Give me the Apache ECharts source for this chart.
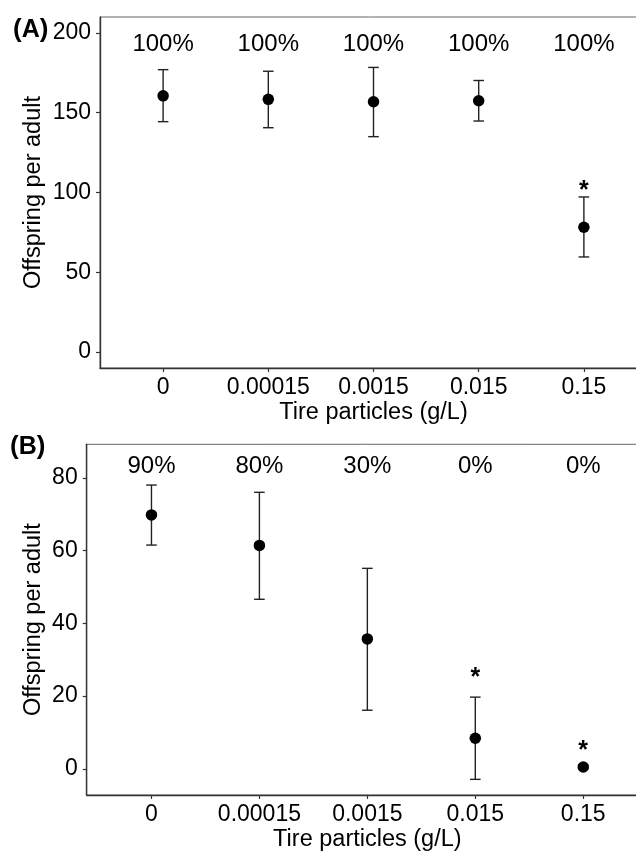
<!DOCTYPE html>
<html>
<head>
<meta charset="utf-8">
<script src="https://cdn.jsdelivr.net/npm/echarts@6/dist/echarts.min.js"></script>
<style>html,body{margin:0;padding:0;background:#fff}#c{width:636px;height:852px}</style>
</head>
<body>
<div id="c"></div>
<script>
// ---- data ----
const categories = ['0', '0.00015', '0.0015', '0.015', '0.15'];
// Panel A
const meanA  = [160.6, 158.4, 156.9, 157.5, 78.2];
const lowerA = [144.4, 140.6, 135.0, 144.8, 59.6];
const upperA = [177.0, 176.0, 178.4, 170.2, 97.2];
const survivalA = ['100%', '100%', '100%', '100%', '100%'];
const starA = [null, null, null, null, 100.6];
const yTicksA = [0, 50, 100, 150, 200];
// Panel B
const meanB  = [69.8, 61.4, 35.7, 8.4, 0.5];
const lowerB = [61.5, 46.6, 16.1, -2.9, 0.0];
const upperB = [78.0, 76.0, 55.1, 19.7, 1.0];
const survivalB = ['90%', '80%', '30%', '0%', '0%'];
const starB = [null, null, null, 24.8, 4.95];
const yTicksB = [0, 20, 40, 60, 80];

const FONT = '"Liberation Sans", Arial, sans-serif';
const TXT = '#000';
const catIdx = categories.map((c, i) => i);

function xAxisCfg(gi, gap) {
  return {
    type: 'value', gridIndex: gi, min: -0.6, max: 4.6,
    axisLine: { show: true, onZero: false, lineStyle: { color: '#333', width: 1.4 } },
    axisTick: { show: true, customValues: catIdx, length: 4, lineStyle: { color: '#333', width: 1.2 } },
    axisLabel: { customValues: catIdx, formatter: v => categories[Math.round(v)], fontSize: 23, color: TXT, fontFamily: FONT, margin: 8 },
    splitLine: { show: false },
    name: 'Tire particles (g/L)', nameLocation: 'middle', nameGap: gap, nameMoveOverlap: false,
    nameTextStyle: { fontSize: 23.5, color: TXT, fontFamily: FONT }
  };
}
function yAxisCfg(gi, min, max, ticks, gap) {
  return {
    type: 'value', gridIndex: gi, min: min, max: max,
    axisLine: { show: true, onZero: false, lineStyle: { color: '#333', width: 1.4 } },
    axisTick: { show: true, customValues: ticks, length: 4, lineStyle: { color: '#333', width: 1.2 } },
    axisLabel: { customValues: ticks, fontSize: 23, color: TXT, fontFamily: FONT, margin: 9 },
    splitLine: { show: false },
    name: 'Offspring per adult', nameLocation: 'middle', nameGap: gap, nameMoveOverlap: false,
    nameTextStyle: { fontSize: 23.5, color: TXT, fontFamily: FONT }
  };
}
function errSeries(gi, lo, hi) {
  return {
    type: 'custom', xAxisIndex: gi, yAxisIndex: gi, z: 2,
    data: catIdx.map(i => [i, lo[i], hi[i]]),
    renderItem: function (params, api) {
      const x = api.value(0);
      const pHi = api.coord([x, api.value(2)]);
      const pLo = api.coord([x, api.value(1)]);
      const w = 5.3;
      const st = { stroke: '#222', lineWidth: 1.4 };
      return {
        type: 'group',
        children: [
          { type: 'line', shape: { x1: pHi[0], y1: pHi[1], x2: pLo[0], y2: pLo[1] }, style: st },
          { type: 'line', shape: { x1: pHi[0] - w, y1: pHi[1], x2: pHi[0] + w, y2: pHi[1] }, style: st },
          { type: 'line', shape: { x1: pLo[0] - w, y1: pLo[1], x2: pLo[0] + w, y2: pLo[1] }, style: st }
        ]
      };
    }
  };
}
function meanSeries(gi, m) {
  return {
    type: 'scatter', xAxisIndex: gi, yAxisIndex: gi, z: 3,
    symbol: 'circle', symbolSize: 11.5, itemStyle: { color: '#000', opacity: 1 },
    data: m.map((v, i) => [i, v])
  };
}
function textSeries(gi, texts, yv, size, weight) {
  return {
    type: 'scatter', xAxisIndex: gi, yAxisIndex: gi, z: 4, symbolSize: 0, silent: true,
    itemStyle: { opacity: 1, color: '#000' },
    data: texts.map((t, i) => t === null ? null : { value: [i, Array.isArray(yv) ? yv[i] : yv], name: t }).filter(d => d),
    label: { show: true, position: 'inside', formatter: p => p.name, fontSize: size, fontWeight: weight || 'normal', color: TXT, opacity: 1, fontFamily: FONT }
  };
}
const starTextsA = starA.map(v => v === null ? null : '*');
const starTextsB = starB.map(v => v === null ? null : '*');

const richLbl = { p: { fontSize: 26, fontFamily: FONT, color: TXT }, b: { fontSize: 25, fontWeight: 'bold', fontFamily: FONT, color: TXT } };
const chart = echarts.init(document.getElementById('c'), null, { renderer: 'canvas' });
chart.setOption({
  animation: false,
  backgroundColor: '#fff',
  title: [
    { text: '{p|(}{b|A}{p|)}', left: 8, top: 12, textStyle: { rich: richLbl } },
    { text: '{p|(}{b|B}{p|)}', left: 5, top: 429, textStyle: { rich: richLbl } }
  ],
  grid: [
    { left: 100, top: 17, right: -11, height: 351, show: true, borderColor: '#666', borderWidth: 1, outerBoundsMode: 'none' },
    { left: 86.7, top: 444.3, right: -12, height: 350.7, show: true, borderColor: '#666', borderWidth: 1, outerBoundsMode: 'none' }
  ],
  xAxis: [xAxisCfg(0, 33), xAxisCfg(1, 33)],
  yAxis: [yAxisCfg(0, -10, 210, yTicksA, 54), yAxisCfg(1, -7.2, 89.2, yTicksB, 41)],
  series: [
    errSeries(0, lowerA, upperA),
    meanSeries(0, meanA),
    textSeries(0, survivalA, 193, 24),
    textSeries(0, starTextsA, starA, 25, 'bold'),
    errSeries(1, lowerB, upperB),
    meanSeries(1, meanB),
    textSeries(1, survivalB, 83.1, 24),
    textSeries(1, starTextsB, starB, 25, 'bold')
  ]
});
</script>
</body>
</html>
